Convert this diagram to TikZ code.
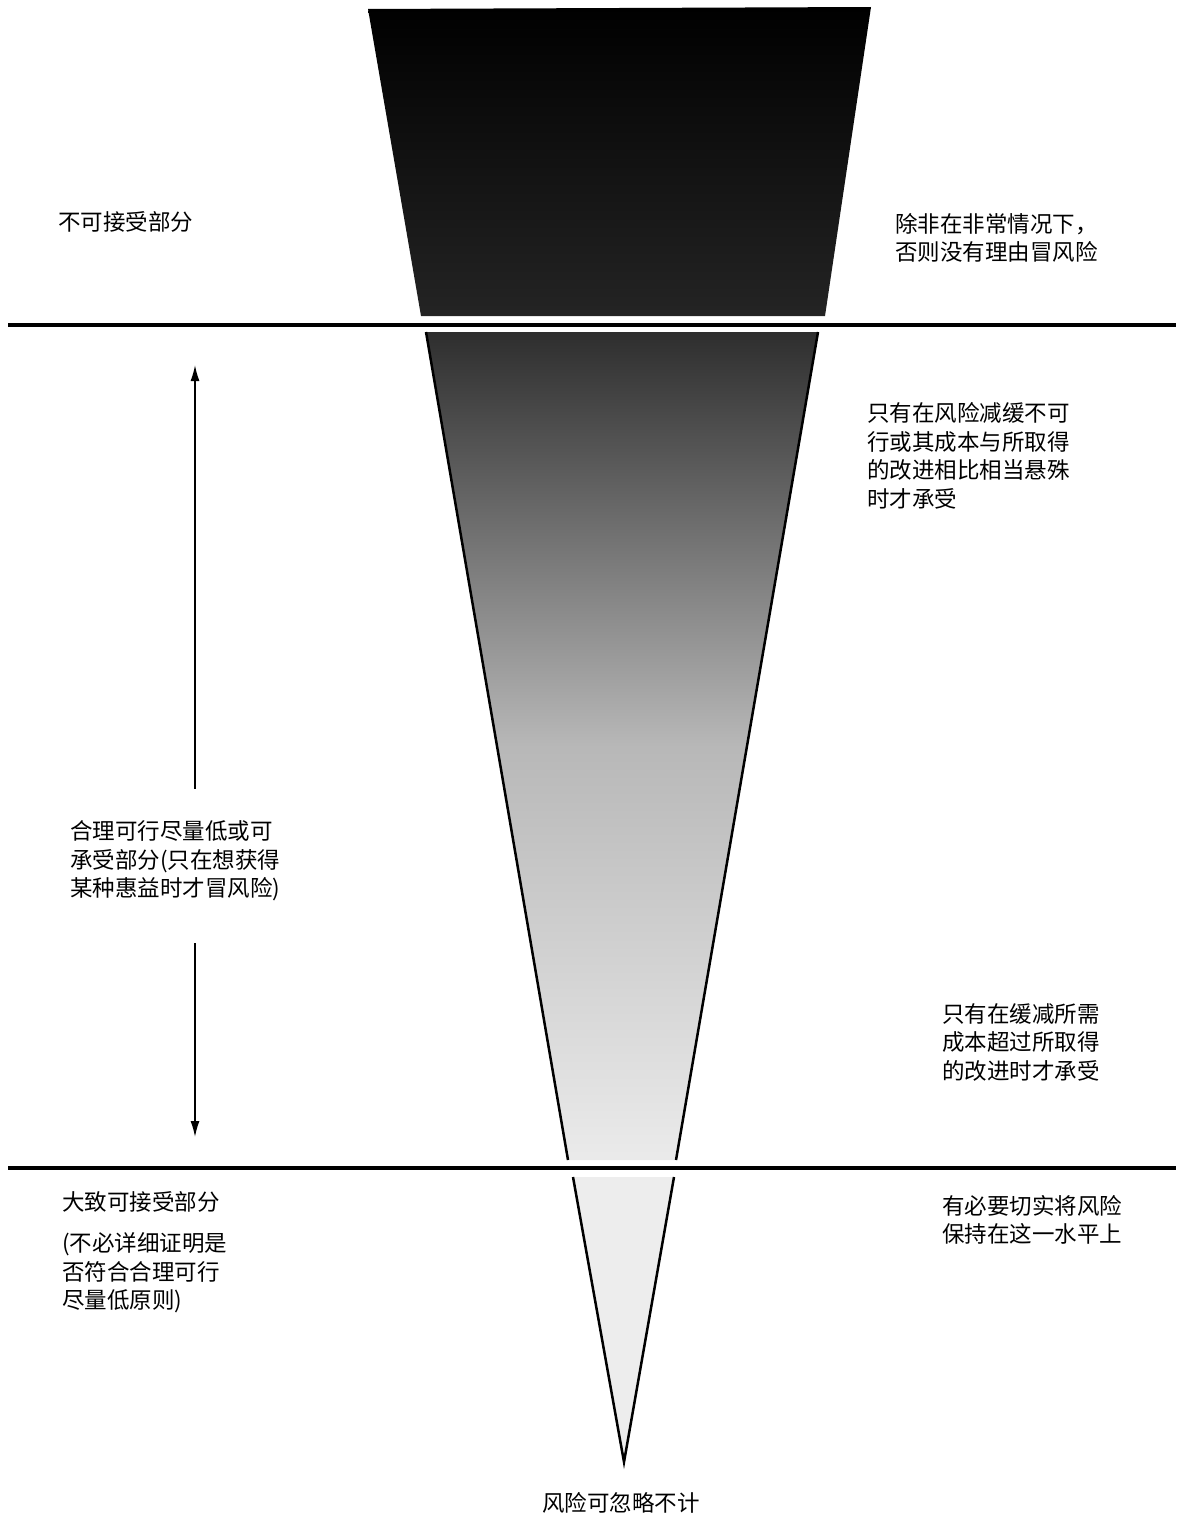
\documentclass[tikz,border=0pt]{standalone}
\usepackage{fontspec}
\newfontfamily\cjk{Noto Sans CJK SC}
\usepackage{tikz}
\usetikzlibrary{arrows.meta,positioning}
\tikzset{
  lbl/.style={anchor=west, inner sep=0pt, align=left,
              font=\cjk\fontsize{22.5}{28.5}\selectfont},
  arr/.style={-{Latex[length=16pt,width=9pt]}, line width=1.5pt},
  sep/.style={line width=3.5pt},
  rim/.style={line width=2.5pt, line join=miter},
}

\begin{document}
\begin{tikzpicture}[x=1pt,y=-1pt]
    \useasboundingbox (0,0) rectangle (1178,1520);

    % the cone, in three bands
    \shade[top color=black, bottom color=black!86]
      (368,9) -- (871,7) -- (825,316) -- (421,316) -- cycle;
    \shade[top color=black!82, bottom color=black!8, middle color=black!28]
      (426,332) -- (818,332) -- (676,1160) -- (568,1160) -- cycle;
    \fill[black!7] (573,1177) -- (674,1177) -- (624,1462) -- cycle;
    \draw[rim] (426,332) -- (568,1160) (818,332) -- (676,1160);
    \draw[rim] (573,1177) -- (624,1462) -- (674,1177);

    % band limits
    \draw[sep] (8,325) -- (1176,325);
    \draw[sep] (8,1168) -- (1176,1168);

    % left side
    \node[lbl] (nonacc) at (58,222) {不可接受部分};
    \node[lbl] (alarp) at (70,861) {合理可行尽量低或可\\承受部分(只在想获得\\某种惠益时才冒风险)};
    \node[lbl] (broad) at (62,1202) {大致可接受部分};
    \node[lbl] (nojust) at (62,1273) {(不必详细证明是\\否符合合理可行\\尽量低原则)};

    % right side
    \node[lbl] (unless) at (895,238) {除非在非常情况下，\\否则没有理由冒风险};
    \node[lbl] (onlyifa) at (867,456) {只有在风险减缓不可\\行或其成本与所取得\\的改进相比相当悬殊\\时才承受};
    \node[lbl] (onlyifb) at (942,1042) {只有在缓减所需\\成本超过所取得\\的改进时才承受};
    \node[lbl] (keep) at (942,1220) {有必要切实将风险\\保持在这一水平上};

    \node[lbl, anchor=center] (negl) at (621,1503) {风险可忽略不计};

    % span of the tolerable band
    \coordinate (arrtop) at (195,365);
    \coordinate (arrbot) at (195,1137);
    \draw[arr, shorten <=32pt] (alarp.north -| arrtop) -- (arrtop);
    \draw[arr, shorten <=42pt] (alarp.south -| arrtop) -- (arrbot);
\end{tikzpicture}
\end{document}
